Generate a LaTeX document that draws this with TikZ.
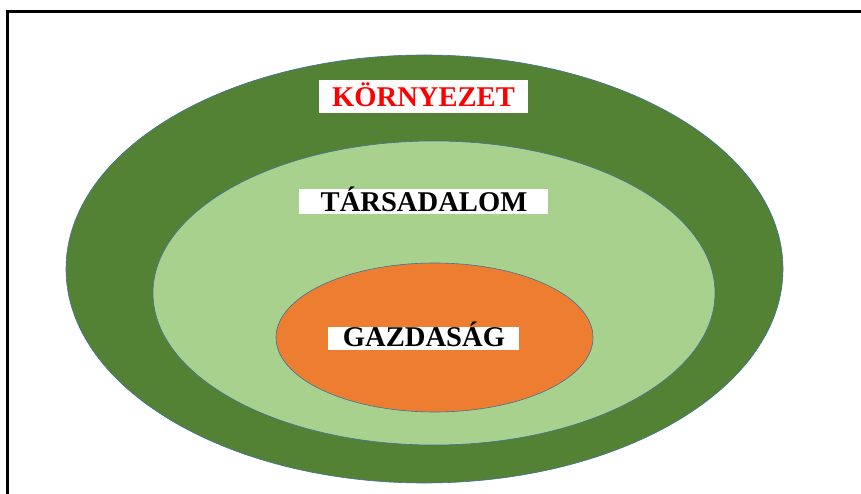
\documentclass[tikz,border=0pt]{standalone}
\usepackage{fontspec}
\setmainfont{Liberation Serif}
\definecolor{outerg}{HTML}{548235}
\definecolor{midg}{HTML}{A9D18E}
\definecolor{orng}{HTML}{ED7D31}
\definecolor{edgeb}{HTML}{41719C}
\tikzset{
  ring/.style={draw=edgeb, line width=0.6pt},
  labelbox/.style={fill=white, inner sep=0pt},
  labeltext/.style={anchor=base, inner sep=0pt, font=\fontsize{28.6}{30}\selectfont\bfseries},
}
\begin{document}
\begin{tikzpicture}[x=1pt,y=-1pt]
\useasboundingbox (0,0) rectangle (861,494);
% frame
\draw[line width=2.2pt] (7.5,494) -- (7.5,11.5) -- (861,11.5);
% ellipses
\path[ring, fill=outerg] (424.5,269) ellipse [x radius=358.5, y radius=214];
\path[ring, fill=midg] (434,293) ellipse [x radius=281, y radius=152];
\path[ring, fill=orng] (434.5,337.5) ellipse [x radius=158.5, y radius=74.5];
% label boxes
\node[labelbox, minimum width=209pt, minimum height=33pt] (kbox) at (423.5,96.5) {};
\node[labelbox, minimum width=249pt, minimum height=25pt] (tbox) at (423.5,201.5) {};
\node[labelbox, minimum width=191pt, minimum height=23pt] (gbox) at (423.5,338.5) {};
\node[labeltext, text=red] (k) at (423.5,106.5) {KÖRNYEZET};
\node[labeltext] (t) at (424,211.5) {TÁRSADALOM};
\node[labeltext] (g) at (424,346.5) {GAZDASÁG};
\end{tikzpicture}
\end{document}
